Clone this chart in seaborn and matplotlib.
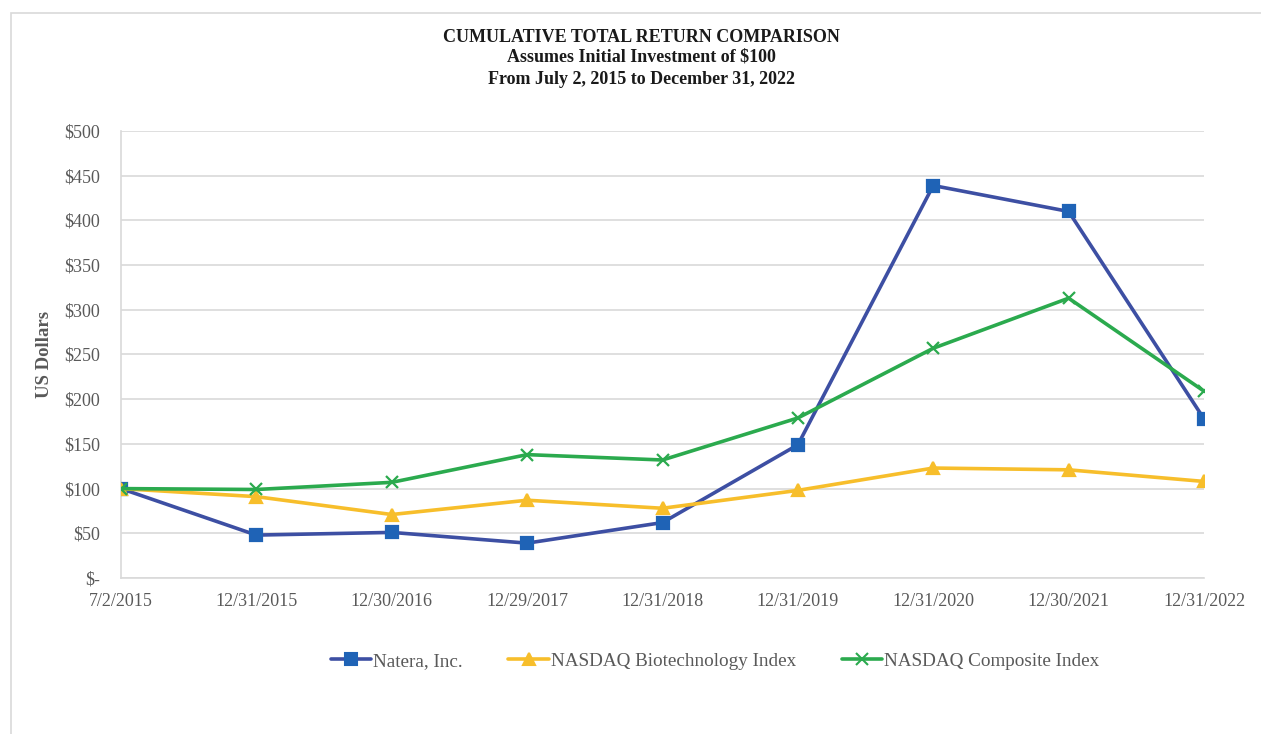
import matplotlib
matplotlib.use("Agg")
import matplotlib.pyplot as plt
import seaborn as sns
import pandas as pd
from matplotlib.patches import Rectangle
from matplotlib.lines import Line2D

dates = ["7/2/2015", "12/31/2015", "12/30/2016", "12/29/2017", "12/31/2018",
         "12/31/2019", "12/31/2020", "12/30/2021", "12/31/2022"]
natera = [100, 48, 51, 39, 62, 149, 439, 410, 178]
biotech = [100, 91, 71, 87, 78, 98, 123, 121, 108]
composite = [100, 99, 107, 138, 132, 179, 257, 313, 209]
series_names = ["Natera, Inc.", "NASDAQ Biotechnology Index", "NASDAQ Composite Index"]
y_ticks = [0, 50, 100, 150, 200, 250, 300, 350, 400, 450, 500]
y_labels = ["$-", "$50", "$100", "$150", "$200", "$250", "$300", "$350", "$400", "$450", "$500"]

sns.set_theme(style="white")
plt.rcParams['font.family'] = ['Liberation Serif', 'DejaVu Serif']

series_values = {series_names[0]: natera, series_names[1]: biotech, series_names[2]: composite}

line_colors = {series_names[0]: "#3D4FA3", series_names[1]: "#F7BE2B", series_names[2]: "#2BAA4E"}
marker_face = {series_names[0]: "#1F63B6", series_names[1]: "#F7BE2B", series_names[2]: "#2BAA4E"}
markers = {series_names[0]: "s", series_names[1]: "^", series_names[2]: "x"}

fig = plt.figure(figsize=(12.61, 7.34), dpi=100)
fig.patches.append(Rectangle((11 / 1261, -0.1), 1.2, (734 - 13) / 734 + 0.1,
                             transform=fig.transFigure, fill=False,
                             edgecolor="#D9D9D9", linewidth=1.2))
ax = fig.add_axes([121 / 1261, 1 - 578 / 734, (1204 - 121) / 1261, (578 - 131) / 734])

for name in series_names:
    d = pd.DataFrame({"pos": list(range(len(dates))), "value": series_values[name]})
    sns.lineplot(data=d, x="pos", y="value", color=line_colors[name], marker=markers[name],
                 markersize=9, markeredgewidth=1.6, markerfacecolor=marker_face[name],
                 markeredgecolor=marker_face[name], linewidth=2.6, ax=ax, zorder=3)

ax.set_xlim(0, 8)
ax.set_ylim(0, 500)
ax.set_xticks(range(9))
ax.set_xticklabels(dates)
ax.set_yticks(y_ticks)
ax.set_yticklabels(y_labels)
ax.tick_params(axis="x", labelsize=13, colors="#595959", length=0, pad=11)
ax.tick_params(axis="y", labelsize=13, colors="#595959", length=0, pad=15)
ax.grid(axis="y", color="#D9D9D9", linewidth=1.2)
ax.set_axisbelow(True)
for s in ["top", "right"]:
    ax.spines[s].set_visible(False)
ax.spines["left"].set_color("#D9D9D9")
ax.spines["bottom"].set_color("#D9D9D9")
ax.spines["left"].set_linewidth(1.2)
ax.spines["bottom"].set_linewidth(1.2)
ax.set_xlabel("")
ax.set_ylabel("US Dollars", fontsize=13.5, fontweight="bold", color="#595959", labelpad=8)

fig.text(0.509, 1 - 38 / 734, "CUMULATIVE TOTAL RETURN COMPARISON", ha="center", va="center",
         fontsize=13, fontweight="bold", color="#1a1a1a")
fig.text(0.509, 1 - 57 / 734, "Assumes Initial Investment of $100", ha="center", va="center",
         fontsize=13, fontweight="bold", color="#1a1a1a")
fig.text(0.509, 1 - 79 / 734, "From July 2, 2015 to December 31, 2022", ha="center", va="center",
         fontsize=13, fontweight="bold", color="#1a1a1a")

handles = [Line2D([], [], color=line_colors[n], marker=markers[n], markersize=8,
                  markerfacecolor=marker_face[n], markeredgecolor=marker_face[n],
                  markeredgewidth=1.5, linewidth=2.6) for n in series_names]
leg = fig.legend(handles, series_names, loc="center", bbox_to_anchor=(715 / 1261, 1 - 661 / 734),
                 ncol=3, frameon=False, fontsize=13.8, handlelength=2.1, handletextpad=0.1,
                 columnspacing=2.4)
for t in leg.get_texts():
    t.set_color("#595959")

fig.savefig("out.png", dpi=100)
